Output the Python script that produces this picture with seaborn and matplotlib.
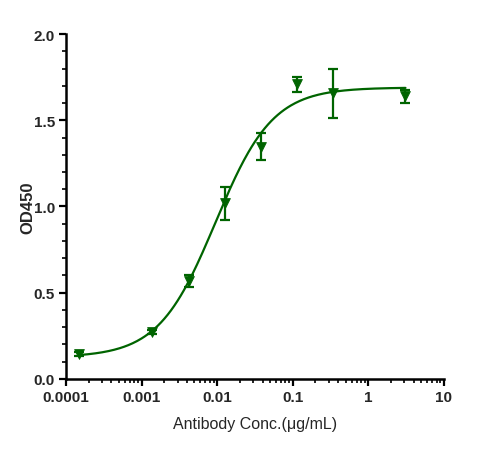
import numpy as np
import pandas as pd
import matplotlib
matplotlib.use("Agg")
import matplotlib.pyplot as plt
import matplotlib.ticker as mticker
import seaborn as sns

# --- data ---
conc = [0.00015, 0.00137, 0.0042, 0.0126, 0.038, 0.115, 0.34, 3.1]
od450 = [0.143, 0.270, 0.570, 1.018, 1.347, 1.710, 1.656, 1.640]
od_err = [0.010, 0.012, 0.035, 0.094, 0.080, 0.043, 0.141, 0.038]

# 4PL fit parameters of the drawn curve
bottom, top, ec50, hill = 0.125, 1.69, 0.0095, 1.15

GREEN = "#006400"

sns.set_theme(style="ticks")
plt.rcParams["font.family"] = ["Liberation Sans", "DejaVu Sans"]

df = pd.DataFrame({"conc": conc, "od": od450, "err": od_err})
xs = np.logspace(np.log10(min(conc)), np.log10(max(conc)), 300)
fit = pd.DataFrame({"conc": xs,
                    "od": bottom + (top - bottom) / (1 + (ec50 / xs) ** hill)})

fig = plt.figure(figsize=(4.96, 4.56), dpi=100)
ax = fig.add_axes([0.133, 0.167, 0.762, 0.756])

sns.lineplot(data=fit, x="conc", y="od", color=GREEN, linewidth=1.6, ax=ax)
ax.errorbar(df["conc"], df["od"], yerr=df["err"], fmt="none",
            ecolor=GREEN, elinewidth=1.6, capsize=3.5, capthick=1.6)
sns.scatterplot(data=df, x="conc", y="od", marker="v", s=50, color=GREEN,
                edgecolor=GREEN, ax=ax, zorder=5)

ax.set_xscale("log")
ax.set_xlim(1e-4, 10)
ax.set_ylim(0, 2.0)
ax.xaxis.set_minor_locator(mticker.LogLocator(base=10, subs=np.arange(2, 10), numticks=20))
ax.set_xticks([1e-4, 1e-3, 1e-2, 1e-1, 1, 10])
ax.set_xticklabels(["0.0001", "0.001", "0.01", "0.1", "1", "10"])
ax.set_yticks([0, 0.5, 1.0, 1.5, 2.0])
ax.set_yticklabels(["0.0", "0.5", "1.0", "1.5", "2.0"])
ax.yaxis.set_minor_locator(mticker.MultipleLocator(0.1))

for lab in ax.get_xticklabels() + ax.get_yticklabels():
    lab.set_fontweight("bold")
    lab.set_fontsize(11)

ax.tick_params(which="major", length=5, width=1.6, color="black", pad=3)
ax.tick_params(which="minor", length=3, width=1.2, color="black")

sns.despine(ax=ax)
for s in ["left", "bottom"]:
    ax.spines[s].set_linewidth(1.8)
    ax.spines[s].set_color("black")

ax.set_xlabel("Antibody Conc.(μg/mL)", fontsize=11.5, labelpad=9)
ax.set_ylabel("OD450", fontsize=12)
ax.yaxis.set_label_coords(-0.08, 0.5)
ax.yaxis.label.set_fontweight("bold")
ax.yaxis.label.set_fontfamily(["Liberation Sans", "DejaVu Sans"])

fig.savefig("out.png", dpi=100)
